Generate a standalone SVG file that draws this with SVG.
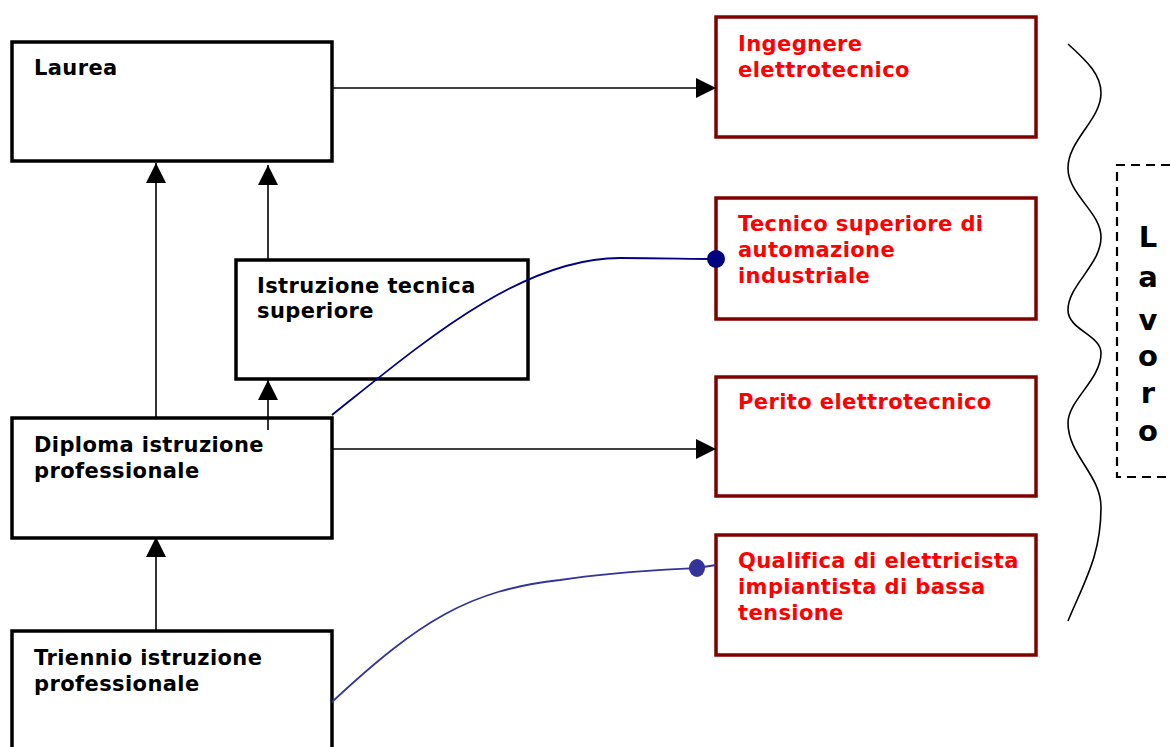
<svg xmlns="http://www.w3.org/2000/svg" width="1170" height="747" viewBox="0 0 1170 747">
<style>
.box{fill:#fff;stroke:#000;stroke-width:3.5}
.rbox{fill:#fff;stroke:#800000;stroke-width:3.5}
.t{font-family:"DejaVu Sans",Verdana,sans-serif;font-weight:bold;font-size:21px;letter-spacing:0.4px;fill:#000}
.r{fill:#ff0000}
.cn{stroke:#000;stroke-width:1.6;fill:none}
.v{font-family:"DejaVu Sans",Verdana,sans-serif;font-weight:bold;font-size:29px;fill:#000;text-anchor:middle}
</style>
<defs>
<marker id="ah" markerWidth="20" markerHeight="20" refX="20" refY="10" orient="auto" markerUnits="userSpaceOnUse">
<path d="M0,0 L20,10 L0,20 Z" fill="#000"/>
</marker>
</defs>
<g id="laurea"><rect class="box" x="12" y="42" width="320" height="119"/><text class="t" x="34" y="75">Laurea</text></g>
<g id="ingegnere"><rect class="rbox" x="716" y="17" width="320" height="120"/><text class="t r" x="738" y="51">Ingegnere</text><text class="t r" x="738" y="77">elettrotecnico</text></g>
<g id="tecnico"><rect class="rbox" x="716" y="198" width="320" height="121"/><text class="t r" x="738" y="231">Tecnico superiore di</text><text class="t r" x="738" y="257">automazione</text><text class="t r" x="738" y="283">industriale</text></g>
<g id="perito"><rect class="rbox" x="716" y="377" width="320" height="119"/><text class="t r" x="738" y="409">Perito elettrotecnico</text></g>
<g id="qualifica"><rect class="rbox" x="716" y="535" width="320" height="120"/><text class="t r" x="738" y="568">Qualifica di elettricista</text><text class="t r" x="738" y="594">impiantista di bassa</text><text class="t r" x="738" y="620">tensione</text></g>
<g id="istruzione"><rect class="box" x="236" y="260" width="292" height="119"/><text class="t" x="257" y="293">Istruzione tecnica</text><text class="t" x="257" y="318">superiore</text></g>
<g id="diploma"><rect class="box" x="12" y="418" width="320" height="120"/><text class="t" x="34" y="452">Diploma istruzione</text><text class="t" x="34" y="478">professionale</text></g>
<g id="triennio"><rect class="box" x="12" y="631" width="320" height="130"/><text class="t" x="34" y="665">Triennio istruzione</text><text class="t" x="34" y="691">professionale</text></g>
<g id="lavoro">
<path d="M1170,165 H1117 V477 H1170" fill="none" stroke="#000" stroke-width="2.2" stroke-dasharray="9,6"/>
<text class="v" x="1148" y="247">L</text><text class="v" x="1148" y="287">a</text><text class="v" x="1148" y="330">v</text><text class="v" x="1148" y="366">o</text><text class="v" x="1148" y="403">r</text><text class="v" x="1148" y="441">o</text>
</g>
<g id="brace"><path d="M1068,44 C1088,62 1101,75 1101,93 C1101,120 1068,140 1068,168 C1068,195 1101,212 1101,237 C1101,265 1068,285 1068,310 C1068,330 1101,335 1101,353 C1101,380 1068,400 1068,423 C1068,455 1101,475 1101,507 C1101,555 1085,580 1068,621" fill="none" stroke="#000" stroke-width="1.6"/></g>
<g id="connectors">
<line class="cn" x1="332" y1="88" x2="716" y2="88" marker-end="url(#ah)"/>
<line class="cn" x1="332" y1="449" x2="716" y2="449" marker-end="url(#ah)"/>
<line class="cn" x1="156" y1="418" x2="156" y2="163" marker-end="url(#ah)"/>
<line class="cn" x1="268" y1="260" x2="268" y2="165" marker-end="url(#ah)"/>
<line class="cn" x1="268" y1="430" x2="268" y2="380" marker-end="url(#ah)"/>
<line class="cn" x1="156" y1="631" x2="156" y2="537" marker-end="url(#ah)"/>
<path d="M332,415 C420,345 520,258 620,258 C660,258 690,259 716,259" fill="none" stroke="#000080" stroke-width="1.8"/>
<circle cx="716" cy="259" r="9" fill="#000080"/>
<path d="M332,702 C420,620 470,590 560,580 C610,572 660,570 697,568 L716,565" fill="none" stroke="#333399" stroke-width="1.8"/>
<ellipse cx="697" cy="568" rx="8" ry="9" fill="#333399"/>
</g>
</svg>
